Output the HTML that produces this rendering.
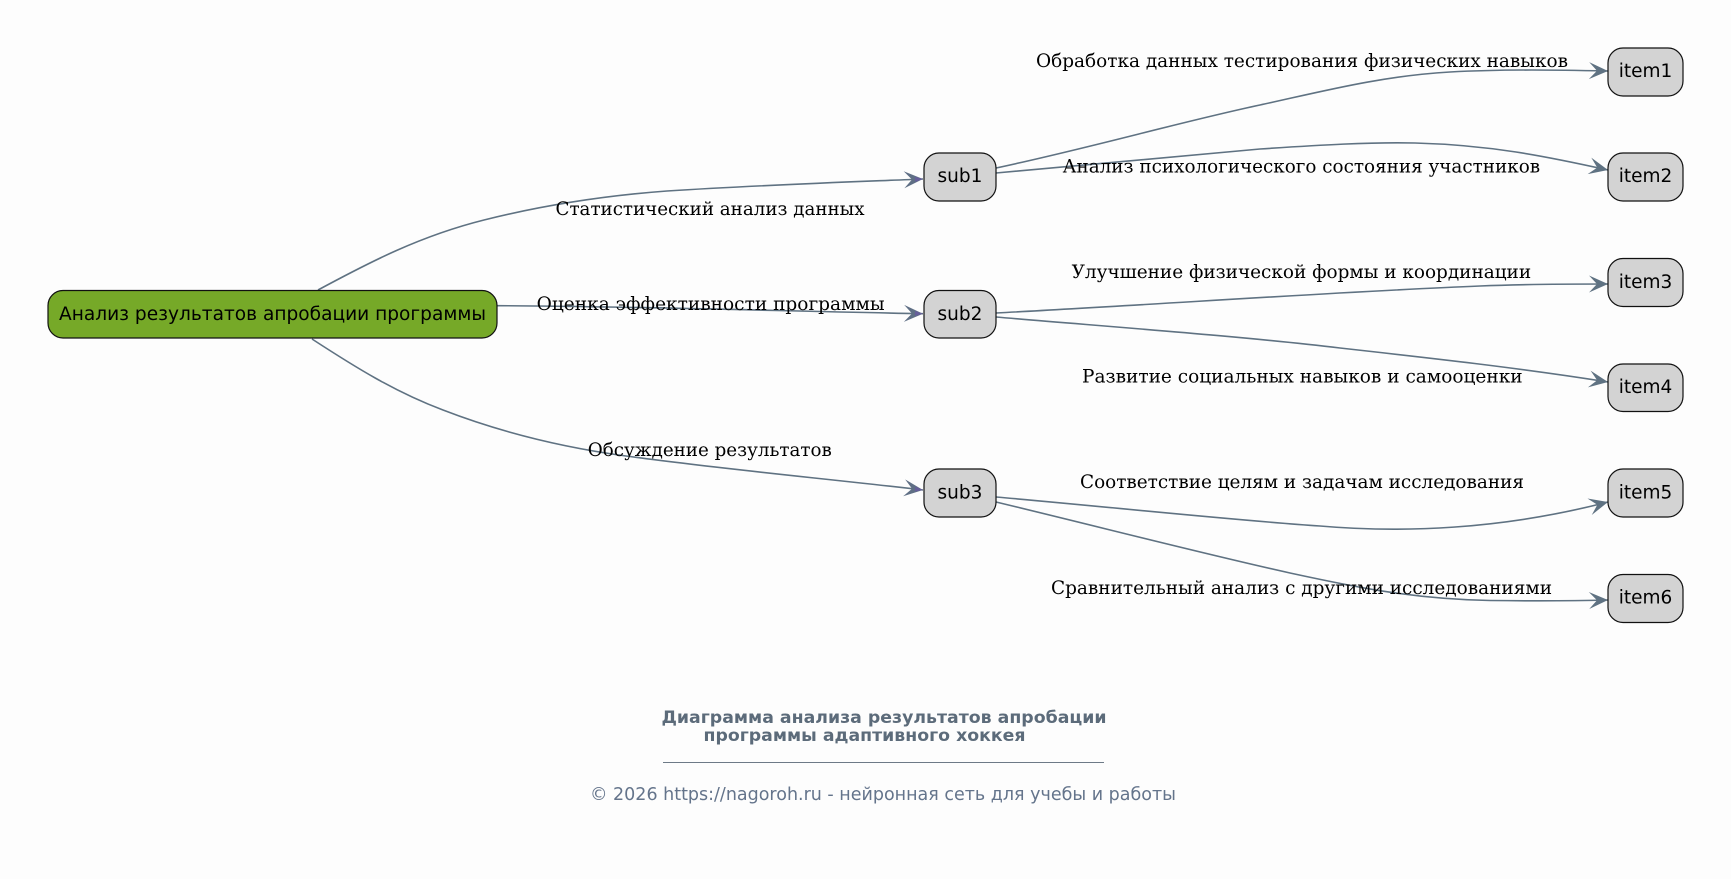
<!DOCTYPE html>
<html><head><meta charset="utf-8"><style>
html,body{margin:0;padding:0;background:#fdfdfd;width:1731px;height:879px;overflow:hidden}
svg{display:block}
.e{fill:none;stroke:#5f7282;stroke-width:1.6;marker-end:url(#a)}
.f{fill:none;stroke:#5f7282;stroke-width:1.6;marker-end:url(#b)}
.n{fill:#d3d3d3;stroke:#111;stroke-width:1.2}
.t{font-family:"DejaVu Sans",sans-serif;font-size:18.5px;fill:#000}
.l{font-family:"DejaVu Serif",serif;font-size:18.2px;fill:#000}
</style></head><body>
<svg width="1731" height="879" viewBox="0 0 1731 879" xmlns="http://www.w3.org/2000/svg">
<defs>
<marker id="a" markerUnits="userSpaceOnUse" markerWidth="24" markerHeight="24" refX="20" refY="12" orient="auto">
<path d="M1 3.5 L20 12 L1 20.5 L9 12 Z" fill="#5f6f85"/>
<path d="M12 9.5 L20 12 L12 14.5 Z" fill="#665f9a"/>
</marker>
<marker id="b" markerUnits="userSpaceOnUse" markerWidth="24" markerHeight="24" refX="20" refY="12" orient="auto">
<path d="M1 3.5 L20 12 L1 20.5 L9 12 Z" fill="#5f7282"/>
</marker>
</defs>
<path class="e" d="M318 290 C370 262,420 236,484 220 C540 206,600 196,667 191 C760 185,850 182,923 179"/>
<path class="e" d="M497.5 305.7 C620 306,780 311,923 313.7"/>
<path class="e" d="M312 339 C355 367,395 392,443 410 C500 432,560 447,626 456 C720 469,830 479,923 490"/>
<path class="f" d="M996 168 C1090 148,1180 122,1260 105 C1320 92,1380 76,1450 72 C1505 69,1560 70,1608 71"/>
<path class="f" d="M996 173 C1090 165,1180 156,1260 149 C1320 145,1370 142,1415 143 C1490 145,1545 156,1608 170"/>
<path class="f" d="M996 313 C1150 305,1350 291,1480 286 C1530 284,1570 284,1608 284"/>
<path class="f" d="M996 317 C1100 326,1240 336,1340 348 C1430 358,1520 368,1608 382"/>
<path class="f" d="M996 497 C1100 506,1230 520,1320 526 C1400 533,1500 530,1608 502"/>
<path class="f" d="M996 502 C1100 527,1200 553,1290 573 C1350 586,1410 599,1490 600.5 C1530 601,1570 601,1608 600"/>

<rect x="48" y="290.5" width="449" height="47.5" rx="15" fill="#76a928" stroke="#111" stroke-width="1.2"/>
<text class="t" x="59" y="320" textLength="427" lengthAdjust="spacingAndGlyphs">Анализ результатов апробации программы</text>

<rect class="n" x="924" y="153" width="72" height="48" rx="15"/><text class="t" x="960" y="182" text-anchor="middle">sub1</text>
<rect class="n" x="924" y="290.5" width="72" height="47.5" rx="15"/><text class="t" x="960" y="320" text-anchor="middle">sub2</text>
<rect class="n" x="924" y="469" width="72" height="48" rx="15"/><text class="t" x="960" y="498.5" text-anchor="middle">sub3</text>

<rect class="n" x="1608" y="48" width="75" height="48" rx="15"/><text class="t" x="1645.5" y="77" text-anchor="middle">item1</text>
<rect class="n" x="1608" y="153" width="75" height="48" rx="15"/><text class="t" x="1645.5" y="182" text-anchor="middle">item2</text>
<rect class="n" x="1608" y="258.5" width="75" height="48" rx="15"/><text class="t" x="1645.5" y="288" text-anchor="middle">item3</text>
<rect class="n" x="1608" y="364" width="75" height="47.5" rx="15"/><text class="t" x="1645.5" y="393" text-anchor="middle">item4</text>
<rect class="n" x="1608" y="469" width="75" height="48" rx="15"/><text class="t" x="1645.5" y="498.5" text-anchor="middle">item5</text>
<rect class="n" x="1608" y="574.5" width="75" height="48" rx="15"/><text class="t" x="1645.5" y="603.5" text-anchor="middle">item6</text>

<text class="l" x="555.5" y="215" textLength="309" lengthAdjust="spacingAndGlyphs">Статистический анализ данных</text>
<text class="l" x="536.7" y="310" textLength="348" lengthAdjust="spacingAndGlyphs">Оценка эффективности программы</text>
<text class="l" x="587.8" y="456" textLength="244" lengthAdjust="spacingAndGlyphs">Обсуждение результатов</text>
<text class="l" x="1036" y="67" textLength="532" lengthAdjust="spacingAndGlyphs">Обработка данных тестирования физических навыков</text>
<text class="l" x="1062.6" y="172.7" textLength="477.5" lengthAdjust="spacingAndGlyphs">Анализ психологического состояния участников</text>
<text class="l" x="1071.6" y="278" textLength="459.5" lengthAdjust="spacingAndGlyphs">Улучшение физической формы и координации</text>
<text class="l" x="1082" y="382.7" textLength="440.6" lengthAdjust="spacingAndGlyphs">Развитие социальных навыков и самооценки</text>
<text class="l" x="1080" y="488" textLength="444" lengthAdjust="spacingAndGlyphs">Соответствие целям и задачам исследования</text>
<text class="l" x="1051" y="594" textLength="501" lengthAdjust="spacingAndGlyphs">Сравнительный анализ с другими исследованиями</text>

<text x="661.5" y="723" font-family="DejaVu Sans, sans-serif" font-weight="700" font-size="17" fill="#5c6b7a" textLength="445" lengthAdjust="spacingAndGlyphs">Диаграмма анализа результатов апробации</text>
<text x="703.5" y="741.2" font-family="DejaVu Sans, sans-serif" font-weight="700" font-size="17" fill="#5c6b7a" textLength="322" lengthAdjust="spacingAndGlyphs">программы адаптивного хоккея</text>
<line x1="663" y1="762.5" x2="1104" y2="762.5" stroke="#6d7a87" stroke-width="1"/>
<text x="590" y="800" font-family="DejaVu Sans, sans-serif" font-size="17.4" fill="#64748b" textLength="586" lengthAdjust="spacingAndGlyphs">© 2026 https://nagoroh.ru - нейронная сеть для учебы и работы</text>
</svg>
</body></html>
